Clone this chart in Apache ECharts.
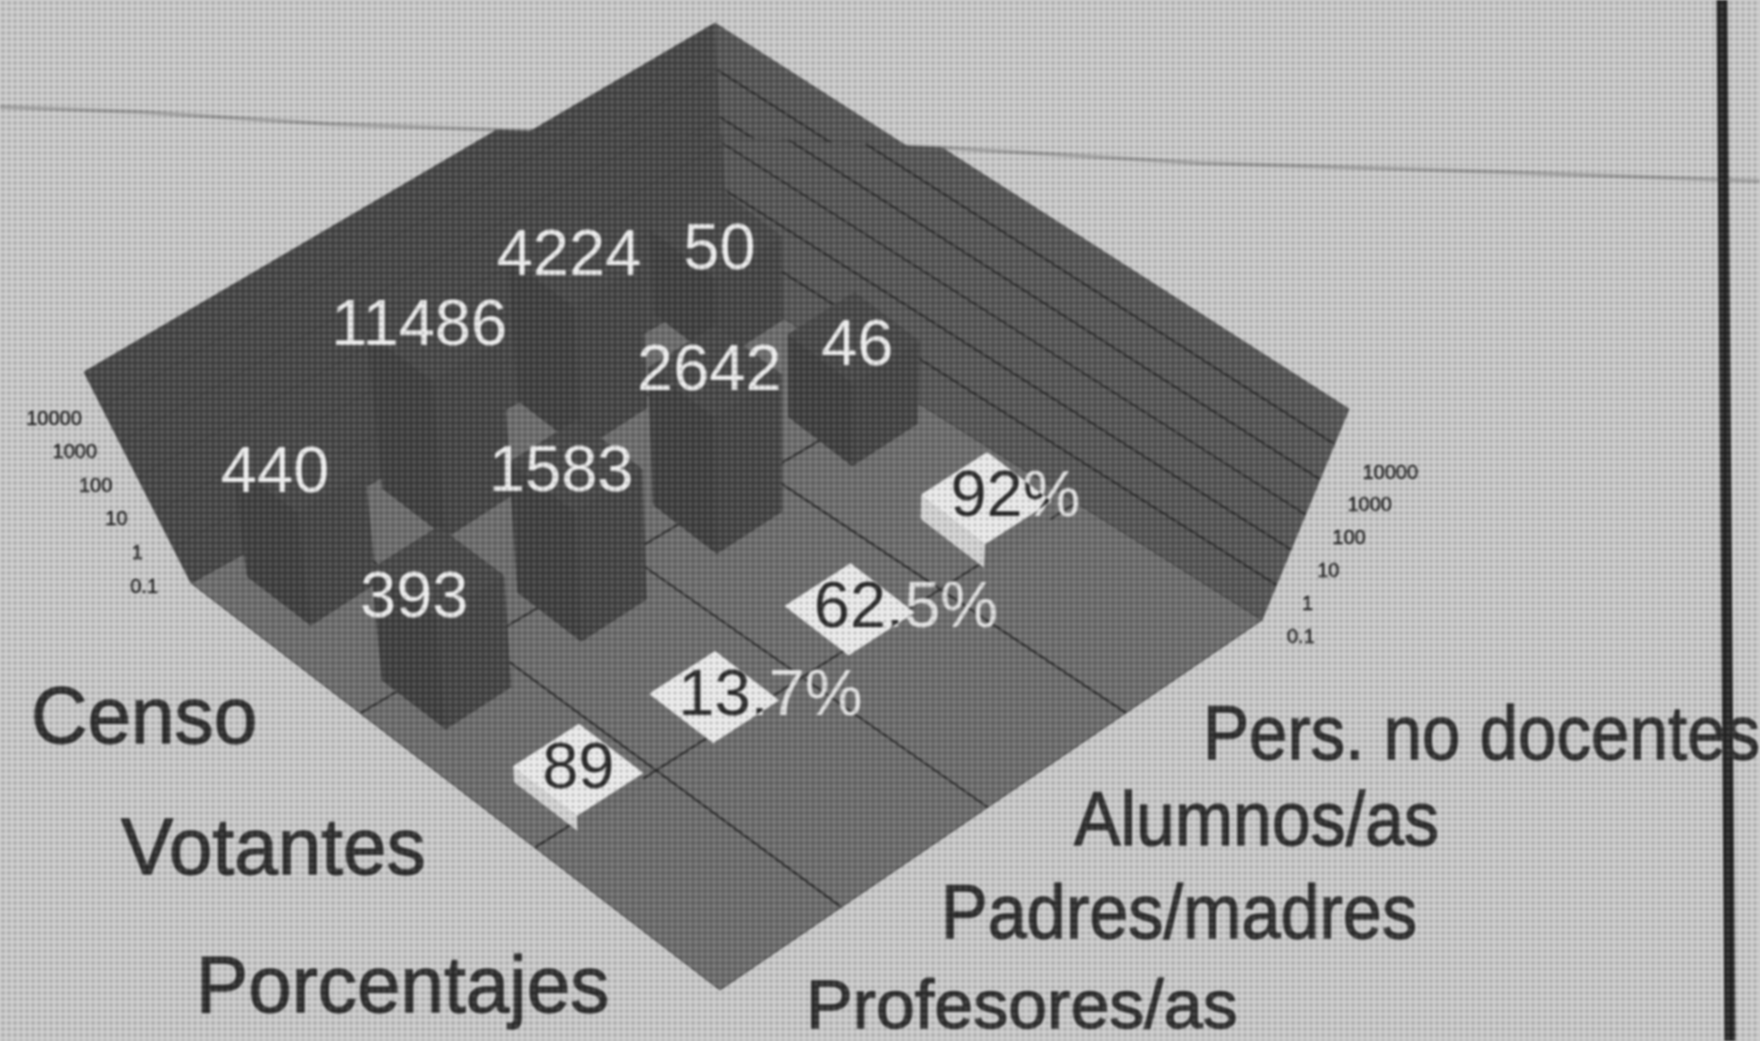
<!DOCTYPE html>
<html>
<head>
<meta charset="utf-8">
<title>Censo y votantes</title>
<script src="https://cdn.jsdelivr.net/npm/echarts@6/dist/echarts.min.js"></script>
<style>
    html, body { margin: 0; padding: 0; background: #cfcfcf; overflow: hidden; }
    #page { position: relative; width: 1760px; height: 1041px; filter: blur(1.1px); }
    #main { position: absolute; left: 0; top: 0; width: 1760px; height: 1041px; }
    /* newsprint screen */
    #screen {
        position: absolute; left: 0; top: 0; width: 1760px; height: 1041px; pointer-events: none;
        background-image:
            radial-gradient(circle, rgba(0, 0, 0, .2) 1.2px, transparent 2px),
            radial-gradient(circle, rgba(255, 255, 255, .16) 1.2px, transparent 2px);
        background-size: 6px 6px;
        background-position: 0 0, 3px 3px;
    }
</style>
</head>
<body>
<div id="page">
    <div id="main"></div>
    <div id="screen"></div>
</div>
<script>
const colNames = ['Profesores/as', 'Padres/madres', 'Alumnos/as', 'Pers. no docentes'];
const rowNames = ['Censo', 'Votantes', 'Porcentajes'];
const censo = [440, 11486, 4224, 50];
const votantes = [393, 1583, 2642, 46];
const porcentajesHeight = [0.32, 0.105, 0.105, 0.6];
const porcentajesLabel = ['89', '13.7%', '62.5%', '92%'];
const tickValues = [0.1, 1, 10, 100, 1000, 10000];

const rowSeries = [censo, votantes, porcentajesHeight];

// corners of the floor, and the wall tops above them
const FRONT = [720, 990], LEFT = [191, 583], RIGHT = [1262, 620], BACK = [731, 285];
const LEFT_TOP = [84, 372], RIGHT_TOP = [1349, 409], BACK_TOP = [715, 2];
// bars stand on a slightly different plane than the box in the original
const BAR_RIGHT = [1262, 639];
const BAR_LEAN = [-27, 22];
const BAR_UP = -186;
const ROW_DEPTH = [0.9, 0.645, 0.395];
const HALF = 0.06;
const GRID_SIZE = 1000;
const FONT = '"Liberation Sans", Arial, sans-serif';
// the Votantes numbers were placed by hand in the original
const VOTANTES_NUDGE = [19, 6, 2, -9];

function lerp(p, q, s) {
    return [p[0] + (q[0] - p[0]) * s, p[1] + (q[1] - p[1]) * s];
}
function floorPoint(a, b) {
    return lerp(lerp(FRONT, LEFT, a), lerp(RIGHT, BACK, a), b);
}
function barPoint(a, b, t) {
    return [
        FRONT[0] + a * (LEFT[0] - FRONT[0]) + b * (BAR_RIGHT[0] - FRONT[0]) + t * (a * BAR_LEAN[0] + b * BAR_LEAN[1]),
        FRONT[1] + a * (LEFT[1] - FRONT[1]) + b * (BAR_RIGHT[1] - FRONT[1]) + t * BAR_UP
    ];
}
function heightOf(api, v) {
    return (GRID_SIZE - api.coord([0, v])[1]) / GRID_SIZE;
}
function poly(points, fill, stroke) {
    return { type: 'polygon', shape: { points: points }, style: { fill: fill, stroke: stroke || fill, lineWidth: 1 } };
}
function seg(p, q, color, width) {
    return { type: 'line', shape: { x1: p[0], y1: p[1], x2: q[0], y2: q[1] }, style: { stroke: color, lineWidth: width } };
}

// the page was folded: everything above the crease sits lower than it should
const CREASE = [[0, 107], [140, 112], [330, 124], [505, 130], [700, 136], [930, 147], [1200, 163], [1500, 172], [1760, 181]];
const FOLD_SHIFT = 21;

function renderBox(params, api) {
    const wall = function () {
        const out = [
            poly([LEFT, BACK, BACK_TOP, LEFT_TOP], '#474747'),
            poly([BACK, RIGHT, RIGHT_TOP, BACK_TOP], '#575757')
        ];
        tickValues.slice(1).forEach(function (v) {
            const t = heightOf(api, v);
            const back = lerp(BACK, BACK_TOP, t);
            out.push(seg(back, lerp(RIGHT, RIGHT_TOP, t), '#2c2c2c', 2));
            out.push(seg(lerp(LEFT, LEFT_TOP, t), back, '#3e3e3e', 1));
        });
        return out;
    };
    const below = CREASE.concat([[1760, 1041], [0, 1041]]);
    const above = CREASE.map(function (p) { return [p[0], p[1] - FOLD_SHIFT]; }).concat([[1760, -60], [0, -60]]);
    const floor = [poly([FRONT, LEFT, BACK, RIGHT], '#6e6e6e', '#3a3a3a')];
    [0.224, 0.494, 0.749].forEach(function (b) {
        floor.push(seg(floorPoint(0, b), floorPoint(1, b), '#2b2b2b', 2));
    });
    [0.35, 0.68].forEach(function (a) {
        floor.push(seg(floorPoint(a, 0), floorPoint(a, 1), '#2b2b2b', 2));
    });
    return {
        type: 'group',
        children: [
            { type: 'group', clipPath: { type: 'polygon', shape: { points: below } }, children: wall() },
            { type: 'group', y: FOLD_SHIFT, clipPath: { type: 'polygon', shape: { points: above } }, children: wall() },
            { type: 'group', children: floor },
            {
                type: 'polyline',
                shape: { points: CREASE },
                style: { stroke: 'rgba(60,60,60,0.3)', lineWidth: 4, fill: null }
            }
        ]
    };
}

function renderBar(params, api) {
    const b = api.coord([api.value(0), 0.1])[0] / GRID_SIZE;
    const t = heightOf(api, api.value(1));
    const row = api.value(2);
    const a = ROW_DEPTH[row];
    const slab = rowNames[row] === 'Porcentajes';
    const s = HALF;
    return {
        type: 'group',
        children: [
            poly([barPoint(a + s, b - s, 0), barPoint(a - s, b - s, 0), barPoint(a - s, b - s, t), barPoint(a + s, b - s, t)],
                slab ? '#d4d4d4' : '#404040'),
            poly([barPoint(a - s, b - s, 0), barPoint(a - s, b + s, 0), barPoint(a - s, b + s, t), barPoint(a - s, b - s, t)],
                slab ? '#6c6c6c' : '#454545'),
            poly([barPoint(a - s, b - s, t), barPoint(a + s, b - s, t), barPoint(a + s, b + s, t), barPoint(a - s, b + s, t)],
                slab ? '#ececec' : '#484848')
        ]
    };
}

function renderBarLabel(params, api) {
    const b = api.coord([api.value(0), 0.1])[0] / GRID_SIZE;
    const t = heightOf(api, api.value(1));
    const row = api.value(2);
    const a = ROW_DEPTH[row];
    const top = barPoint(a, b, t);
    const font = '65px ' + FONT;
    if (rowNames[row] !== 'Porcentajes') {
        const nudge = rowNames[row] === 'Votantes' ? VOTANTES_NUDGE[api.value(0)] : 0;
        return {
            type: 'text',
            style: {
                x: top[0] - 10 + 36 * (b - 0.5), y: top[1] + 48 - 67 * t + nudge, text: String(api.value(1)), font: font,
                fill: '#efefef', textAlign: 'center', textVerticalAlign: 'middle'
            }
        };
    }
    // label is white on the floor and black where it runs over the slab top
    const text = porcentajesLabel[api.value(0)];
    const s = HALF;
    const face = [barPoint(a - s, b - s, t), barPoint(a + s, b - s, t), barPoint(a + s, b + s, t), barPoint(a - s, b + s, t)];
    const base = { x: top[0] - 36, y: top[1], text: text, font: font, textAlign: 'left', textVerticalAlign: 'middle' };
    return {
        type: 'group',
        children: [
            { type: 'text', style: Object.assign({ fill: '#e4e4e4' }, base) },
            {
                type: 'text',
                clipPath: { type: 'polygon', shape: { points: face } },
                style: Object.assign({ fill: '#2a2a2a' }, base)
            }
        ]
    };
}

function renderTicks(params, api) {
    const children = [];
    tickValues.forEach(function (v) {
        const t = heightOf(api, v);
        const l = lerp(LEFT, LEFT_TOP, t), r = lerp(RIGHT, RIGHT_TOP, t);
        children.push({
            type: 'text',
            style: {
                x: l[0] - 33 + 15.6 * t, y: l[1] + 4 + 9.6 * t, text: String(v), font: '20px ' + FONT,
                fill: '#222', stroke: '#222', lineWidth: 0.5, textAlign: 'right', textVerticalAlign: 'middle'
            }
        });
        children.push({
            type: 'text',
            style: {
                x: r[0] + 25 + 3.6 * t, y: r[1] + 17 + 14.4 * t, text: String(v), font: '20px ' + FONT,
                fill: '#222', stroke: '#222', lineWidth: 0.5, textAlign: 'left', textVerticalAlign: 'middle'
            }
        });
    });
    return { type: 'group', children: children };
}

// back rows and back columns first so the nearer bars paint over them
const barData = [];
rowSeries.forEach(function (values, row) {
    for (let col = colNames.length - 1; col >= 0; col--) {
        barData.push([col, values[col], row]);
    }
});

function categoryText(text, x, y, size, scaleX) {
    return {
        type: 'text', x: x, y: y, scaleX: scaleX, scaleY: 1.05, z: 20, silent: true,
        style: {
            text: text, x: 0, y: 0, font: size + 'px ' + FONT, fill: '#2e2e2e', stroke: '#2e2e2e', lineWidth: 1.2,
            textAlign: 'left', textVerticalAlign: 'middle'
        }
    };
}

const myChart = echarts.init(document.getElementById('main'), null, { renderer: 'canvas' });
myChart.setOption({
    backgroundColor: '#cbcbcb',
    animation: false,
    grid: { left: 0, top: 0, width: GRID_SIZE, height: GRID_SIZE, containLabel: false },
    xAxis: { type: 'category', data: colNames, show: false },
    yAxis: { type: 'log', logBase: 10, min: 0.1, max: 100000, show: false },
    graphic: {
        elements: [
            {
                type: 'line', z: 15, silent: true,
                shape: { x1: 1722, y1: 0, x2: 1730, y2: 1041 },
                style: { stroke: '#272727', lineWidth: 11 }
            },
            categoryText(rowNames[0], 31, 721, 76, 1.03),
            categoryText(rowNames[1], 121, 852, 76, 1.03),
            categoryText(rowNames[2], 196, 990, 76, 1.03),
            categoryText(colNames[3], 1203, 738, 72, 0.96),
            categoryText(colNames[2], 1074, 824, 72, 0.97),
            categoryText(colNames[1], 941, 917, 72, 0.975),
            categoryText(colNames[0], 806, 1009, 66, 1.06)
        ]
    },
    series: [
        { type: 'custom', z: 2, silent: true, renderItem: renderBox, data: [[0, 1]], encode: { x: 0, y: 1 } },
        { type: 'custom', z: 3, silent: true, renderItem: renderTicks, data: [[0, 1]], encode: { x: 0, y: 1 } },
        { type: 'custom', z: 4, silent: true, renderItem: renderBar, data: barData, encode: { x: 0, y: 1 } },
        { type: 'custom', z: 5, silent: true, renderItem: renderBarLabel, data: barData, encode: { x: 0, y: 1 } }
    ]
});
</script>
</body>
</html>
